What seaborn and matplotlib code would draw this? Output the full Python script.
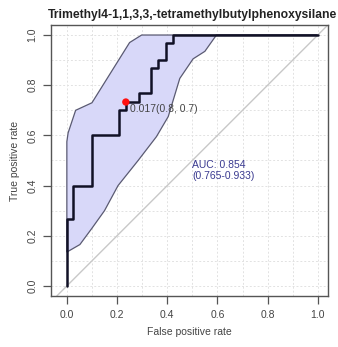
import numpy as np
import matplotlib
matplotlib.use("Agg")
import matplotlib.pyplot as plt
import seaborn as sns

# ROC curve corners (false positive rate, true positive rate)
roc_fpr = [0.0, 0.0, 0.025, 0.102, 0.208, 0.235, 0.288, 0.337, 0.364, 0.394, 0.421, 1.0]
roc_tpr = [0.0, 0.267, 0.4, 0.6, 0.7, 0.733, 0.767, 0.867, 0.9, 0.967, 1.0, 1.0]

# confidence band edges
ci_upper_fpr = [0.0, 0.005, 0.035, 0.1, 0.25, 0.298, 1.0]
ci_upper_tpr = [0.575, 0.61, 0.70, 0.73, 0.97, 1.0, 1.0]
ci_lower_fpr = [0.0, 0.052, 0.1, 0.15, 0.204, 0.284, 0.357, 0.404, 0.45, 0.503, 0.55, 0.596, 1.0]
ci_lower_tpr = [0.135, 0.165, 0.23, 0.30, 0.40, 0.50, 0.595, 0.675, 0.827, 0.905, 0.935, 1.0, 1.0]

best_fpr = 0.235
best_tpr = 0.733
best_label = "0.017(0.8, 0.7)"
auc_label = "AUC: 0.854\n(0.765-0.933)"
title = "Trimethyl4-1,1,3,3,-tetramethylbutylphenoxysilane"

sns.set_style("white")
plt.rcParams["font.family"] = ["Liberation Sans", "DejaVu Sans"]

fig = plt.figure(figsize=(3.38, 3.47), dpi=100)
ax = fig.add_axes([0.151, 0.147, 0.819, 0.781])

# dotted grid every 0.1
for g in np.arange(0, 1.01, 0.1):
    ax.axvline(g, color="#e2e2e2", lw=0.7, ls=(0, (2, 2)), zorder=0)
    ax.axhline(g, color="#e2e2e2", lw=0.7, ls=(0, (2, 2)), zorder=0)

poly_x = ci_upper_fpr + ci_lower_fpr[::-1]
poly_y = ci_upper_tpr + ci_lower_tpr[::-1]
ax.fill(poly_x, poly_y, facecolor="#d8d8f9", edgecolor="#5a5a72", lw=0.9, zorder=1)

ax.axline((0, 0), (1, 1), color="#c8c8c8", lw=1.0, zorder=2)

sns.lineplot(x=roc_fpr, y=roc_tpr, drawstyle="steps-post", sort=False,
             estimator=None, color="#111126", lw=1.8, ax=ax, zorder=3)
sns.scatterplot(x=[best_fpr], y=[best_tpr], color="#ff1010", s=28,
                edgecolor="none", ax=ax, zorder=4)
ax.text(best_fpr + 0.015, best_tpr - 0.028, best_label, fontsize=7.5,
        color="#444444", va="center", ha="left", zorder=5)
ax.text(0.5, 0.46, auc_label, fontsize=7.5, color="#3a3a90",
        va="center", ha="left", linespacing=1.1, zorder=5)

ax.set_xlim(-0.063, 1.04)
ax.set_ylim(-0.04, 1.04)
ticks = [0.0, 0.2, 0.4, 0.6, 0.8, 1.0]
ax.set_xticks(ticks)
ax.set_yticks(ticks)
ax.set_xticklabels([f"{t:.1f}" for t in ticks])
ax.set_yticklabels([f"{t:.1f}" for t in ticks], rotation=90, va="center")
ax.tick_params(axis="both", direction="out", length=6, width=0.9,
               color="#555555", labelcolor="#444444", labelsize=7.5,
               left=True, bottom=True, pad=4)
for s in ax.spines.values():
    s.set_color("#555555")
    s.set_linewidth(1.0)

ax.set_xlabel("False positive rate", fontsize=7.5, color="#444444", labelpad=5)
ax.set_ylabel("True positive rate", fontsize=7.5, color="#444444", labelpad=5)
ax.set_title(title, fontsize=8.7, fontweight="bold", color="#222222", pad=5, x=0.51)

fig.savefig("out.png", dpi=100)
